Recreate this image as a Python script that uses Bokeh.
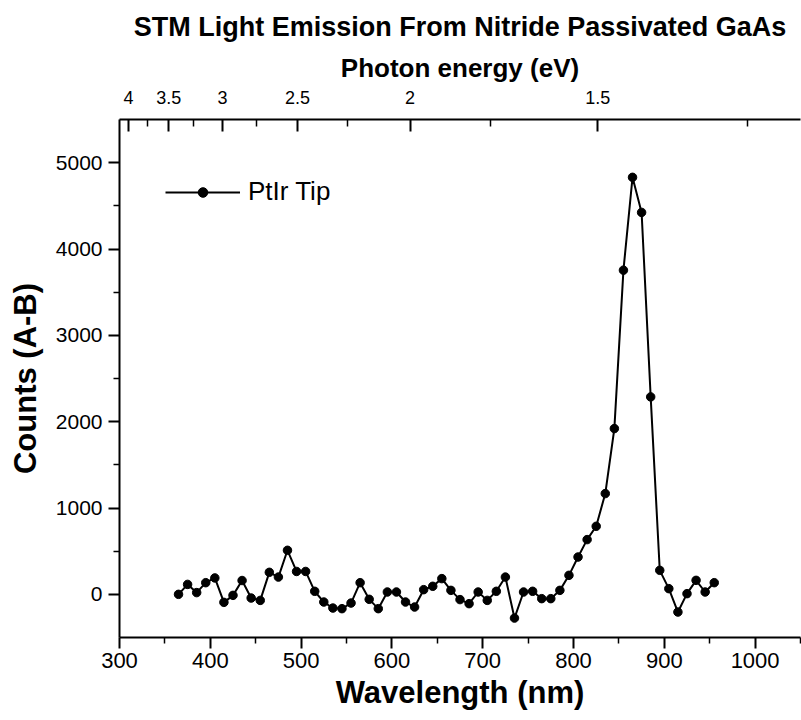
from bokeh.plotting import figure
from bokeh.models import (LinearAxis, FixedTicker, Range1d, Legend, LegendItem,
                          ColumnDataSource)
from bokeh.embed import file_html
from bokeh.resources import INLINE

# ---- data ----
wavelength_nm = [365, 375, 385, 395, 405, 415, 425, 435, 445, 455,
                 465, 475, 485, 495, 505, 515, 525, 535, 545, 555,
                 565, 575, 585, 595, 605, 615, 625, 635, 645, 655,
                 665, 675, 685, 695, 705, 715, 725, 735, 745, 755,
                 765, 775, 785, 795, 805, 815, 825, 835, 845, 855,
                 865, 875, 885, 895, 905, 915, 925, 935, 945, 955]
counts = [0, 115, 20, 135, 190, -93, -12, 160, -43, -70,
          255, 200, 510, 265, 265, 35, -89, -159, -166, -101,
          135, -58, -166, 27, 27, -89, -147, 54, 93, 182,
          46, -61, -108, 27, -70, 35, 200, -275, 27, 35,
          -50, -50, 46, 220, 432, 634, 788, 1167, 1920, 3755,
          4830, 4424, 2287, 278, 66, -205, 8, 162, 27, 135]
series_label = "PtIr Tip"
chart_title = "STM Light Emission From Nitride Passivated GaAs"

x_major_ticks = [300, 400, 500, 600, 700, 800, 900, 1000]
x_minor_ticks = [350, 450, 550, 650, 750, 850, 950, 1050]
y_major_ticks = [0, 1000, 2000, 3000, 4000, 5000]
y_minor_ticks = [500, 1500, 2500, 3500, 4500]
energy_major = [4, 3.5, 3, 2.5, 2, 1.5]
energy_labels = ["4", "3.5", "3", "2.5", "2", "1.5"]
energy_minor = [3.75, 3.25, 2.75, 2.25, 1.75, 1.25]
HC_EV_NM = 1240.0

FONT = "Liberation Sans"

p = figure(width=801, height=720, output_backend="svg", toolbar_location=None,
           x_range=Range1d(300, 1050), y_range=Range1d(-500, 5500),
           min_border_left=119, min_border_right=1, min_border_top=119,
           min_border_bottom=83)
p.title.text = chart_title
p.title.align = "center"
p.title.text_font = FONT
p.title.text_font_size = "27px"
p.title.text_font_style = "bold"
p.title.text_color = "black"
p.title.standoff = 15

p.xgrid.visible = False
p.ygrid.visible = False
p.outline_line_color = None
p.background_fill_color = "white"
p.border_fill_color = "white"

def style_axis(ax, tick_size, label_size):
    ax.axis_line_width = 2
    ax.axis_line_color = "black"
    ax.major_tick_line_width = 2
    ax.minor_tick_line_width = 1.5
    ax.major_tick_line_color = "black"
    ax.minor_tick_line_color = "black"
    ax.major_label_text_font = FONT
    ax.major_label_text_font_size = tick_size
    ax.major_label_text_color = "black"
    ax.axis_label_text_font = FONT
    ax.axis_label_text_font_size = label_size
    ax.axis_label_text_font_style = "bold"
    ax.axis_label_text_color = "black"

xa = p.xaxis[0]
xa.ticker = FixedTicker(ticks=x_major_ticks, minor_ticks=x_minor_ticks)
xa.axis_label = "Wavelength (nm)"
style_axis(xa, "22px", "31px")
xa.major_tick_in = 0
xa.major_tick_out = 11
xa.minor_tick_in = 0
xa.minor_tick_out = 6
xa.major_label_standoff = 4
xa.axis_label_standoff = 4

ya = p.yaxis[0]
ya.ticker = FixedTicker(ticks=y_major_ticks, minor_ticks=y_minor_ticks)
ya.axis_label = "Counts (A-B)"
style_axis(ya, "21px", "31px")
ya.major_tick_in = 0
ya.major_tick_out = 11
ya.minor_tick_in = 0
ya.minor_tick_out = 6
ya.major_label_standoff = 6
ya.axis_label_standoff = 10

top_major = [HC_EV_NM / e for e in energy_major]
top_minor = [HC_EV_NM / e for e in energy_minor]
ta = LinearAxis(ticker=FixedTicker(ticks=top_major, minor_ticks=top_minor),
                major_label_overrides={t: lab for t, lab in zip(top_major, energy_labels)},
                axis_label="Photon energy (eV)")
style_axis(ta, "18px", "26px")
ta.major_tick_in = 12
ta.major_tick_out = 0
ta.minor_tick_in = 7
ta.minor_tick_out = 0
ta.major_label_standoff = 16
ta.axis_label_standoff = 5
p.add_layout(ta, "above")

src = ColumnDataSource(dict(x=wavelength_nm, y=counts))
ln = p.line("x", "y", source=src, line_color="black", line_width=2)
sc = p.scatter("x", "y", source=src, size=8.5, fill_color="black", line_color="black")

legend = Legend(items=[LegendItem(label=series_label, renderers=[ln, sc])],
                location=(46, 430), border_line_color=None, background_fill_alpha=0,
                padding=0, margin=0, spacing=0, glyph_width=75, glyph_height=24,
                label_height=24, label_standoff=8, label_text_font=FONT,
                label_text_font_size="26px", label_text_color="black")
p.add_layout(legend)

open("out.html", "w").write(file_html(p, INLINE))
